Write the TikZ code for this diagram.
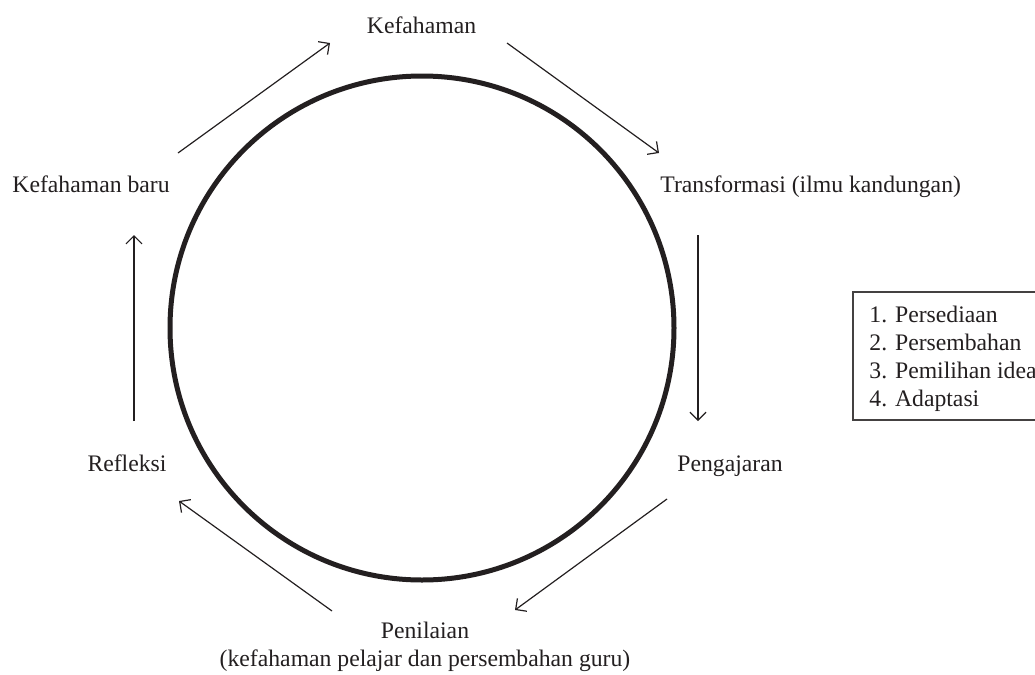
\documentclass[tikz,border=0pt]{standalone}
\usepackage{fontspec}
\setmainfont{Liberation Serif}
\usetikzlibrary{arrows.meta}
\definecolor{ink}{HTML}{231F20}
\begin{document}
\begin{tikzpicture}[x=0.5pt,y=-0.5pt,
  lbl/.style={font=\fontsize{11.85}{14}\selectfont, text=ink, inner sep=0pt},
  flow/.style={draw=ink, line width=0.6pt, -{Straight Barb[length=4pt,width=8pt,line width=0.6pt]}},
  ring/.style={draw=ink, line width=2.5pt},
  frame/.style={draw=ink!85, line width=0.7pt}]
\useasboundingbox (0,0) rectangle (1035,675);
\clip (0,0) rectangle (1035,675);
% ring
\draw[ring] (422,328) circle[radius=252];
% labels
\node[lbl, anchor=base] (kef) at (421.5,33) {Kefahaman};
\node[lbl, anchor=base west] (tra) at (660,192) {Transformasi (ilmu kandungan)};
\node[lbl, anchor=base west] (pen) at (677,471) {Pengajaran};
\node[lbl, anchor=base] (nil) at (425,638) {Penilaian};
\node[lbl, anchor=base] (nil2) at (425,666) {(kefahaman pelajar dan persembahan guru)};
\node[lbl, anchor=base] (ref) at (127,471) {Refleksi};
\node[lbl, anchor=base west] (kb) at (12,192) {Kefahaman baru};
% arrows
\coordinate (a1s) at (178,153); \coordinate (a1e) at (330,43);
\coordinate (a2s) at (507,43);  \coordinate (a2e) at (659,153);
\coordinate (a3s) at (698,235); \coordinate (a3e) at (698,421);
\coordinate (a4s) at (667,499); \coordinate (a4e) at (515,610);
\coordinate (a5s) at (332,611); \coordinate (a5e) at (179,501);
\coordinate (a6s) at (134,421); \coordinate (a6e) at (134,235);
\draw[flow] (a1s) -- (a1e);
\draw[flow] (a2s) -- (a2e);
\draw[flow] (a3s) -- (a3e);
\draw[flow] (a4s) -- (a4e);
\draw[flow] (a5s) -- (a5e);
\draw[flow] (a6s) -- (a6e);
% box
\coordinate (bx1) at (853,292); \coordinate (bx2) at (1100,420);
\draw[frame] (bx1) rectangle (bx2);
\node[lbl, anchor=base west] (s1) at (869,322) {1. Persediaan};
\node[lbl, anchor=base west] (s2) at (869,350) {2. Persembahan};
\node[lbl, anchor=base west] (s3) at (869,378) {3. Pemilihan idea};
\node[lbl, anchor=base west] (s4) at (869,406) {4. Adaptasi};
\end{tikzpicture}
\end{document}
